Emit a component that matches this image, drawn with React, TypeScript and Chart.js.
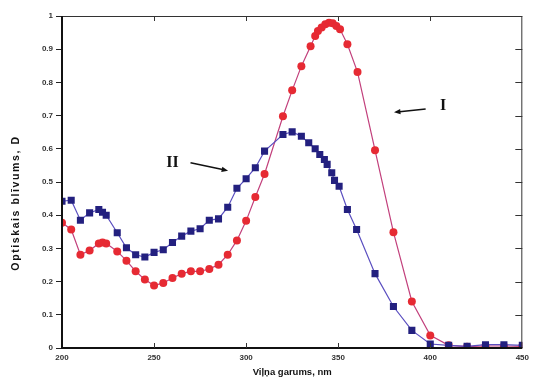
import React, { useEffect, useRef } from 'react';
import { Chart, registerables } from 'chart.js';

Chart.register(...registerables);

// Series I (red circles)
const redNm = [200, 205, 210, 215, 220, 222, 224, 230, 235, 240, 245, 250, 255, 260, 265, 270, 275, 280, 285, 290, 295, 300, 305, 310, 320, 325, 330, 335, 337.5, 339, 341, 343, 345, 347, 349, 351, 355, 360.5, 370, 380, 390, 400, 410, 420, 430, 440, 450];
const redD = [0.377, 0.357, 0.281, 0.294, 0.315, 0.318, 0.315, 0.291, 0.263, 0.231, 0.206, 0.188, 0.196, 0.211, 0.224, 0.231, 0.231, 0.238, 0.251, 0.281, 0.324, 0.383, 0.455, 0.524, 0.698, 0.776, 0.849, 0.909, 0.94, 0.955, 0.965, 0.975, 0.98, 0.978, 0.97, 0.96, 0.915, 0.831, 0.596, 0.349, 0.14, 0.038, 0.008, 0.004, 0.006, 0.006, 0.005];

// Series II (blue squares)
const blueNm = [200, 205, 210, 215, 220, 222, 224, 230, 235, 240, 245, 250, 255, 260, 265, 270, 275, 280, 285, 290, 295, 300, 305, 310, 320, 325, 330, 334, 337.5, 340, 342.5, 344, 346.5, 348, 350.5, 355, 360, 370, 380, 390, 400, 410, 420, 430, 440, 450];
const blueD = [0.442, 0.445, 0.385, 0.407, 0.417, 0.409, 0.4, 0.347, 0.302, 0.281, 0.274, 0.288, 0.296, 0.318, 0.337, 0.352, 0.359, 0.385, 0.389, 0.424, 0.481, 0.51, 0.543, 0.593, 0.643, 0.651, 0.638, 0.618, 0.6, 0.583, 0.568, 0.553, 0.528, 0.505, 0.487, 0.417, 0.357, 0.224, 0.125, 0.053, 0.012, 0.008, 0.005, 0.01, 0.01, 0.008];

const xTicks = [200, 250, 300, 350, 400, 450];
const yTicks = [0, 0.1, 0.2, 0.3, 0.4, 0.5, 0.6, 0.7, 0.8, 0.9, 1];
const xTitle = 'Viļņa garums, nm';
const yTitle = 'Optiskais blīvums, D';
const labelI = 'I';
const labelII = 'II';

const frameAndNotes = {
  id: 'frameAndNotes',
  afterDraw(chart: any) {
    const { ctx, chartArea, scales } = chart;
    const { left, right, top, bottom } = chartArea;
    const x = scales.x;
    const y = scales.y;
    ctx.save();
    // frame
    ctx.strokeStyle = '#333';
    ctx.lineWidth = 1;
    ctx.beginPath();
    ctx.moveTo(left, top + 0.5);
    ctx.lineTo(right, top + 0.5);
    ctx.moveTo(right - 0.5, top);
    ctx.lineTo(right - 0.5, bottom);
    ctx.stroke();
    ctx.strokeStyle = '#111';
    ctx.lineWidth = 2;
    ctx.beginPath();
    ctx.moveTo(left, top);
    ctx.lineTo(left, bottom);
    ctx.lineTo(right, bottom);
    ctx.stroke();
    // inward ticks
    ctx.lineWidth = 1;
    ctx.strokeStyle = '#333';
    ctx.beginPath();
    xTicks.slice(1, -1).forEach((v) => {
      const px = Math.round(x.getPixelForValue(v)) + 0.5;
      ctx.moveTo(px, bottom);
      ctx.lineTo(px, bottom - 5);
      ctx.moveTo(px, top);
      ctx.lineTo(px, top + 5);
    });
    yTicks.slice(1, -1).forEach((v) => {
      const py = Math.round(y.getPixelForValue(v)) + 0.5;
      ctx.moveTo(right, py);
      ctx.lineTo(right - 7, py);
    });
    ctx.stroke();
    // y-axis title
    ctx.save();
    ctx.translate(16, (top + bottom) / 2 + 21);
    ctx.rotate(-Math.PI / 2);
    ctx.fillStyle = '#111';
    ctx.font = 'bold 10.5px "Liberation Sans", Arial, sans-serif';
    (ctx as any).letterSpacing = '1.6px';
    ctx.textAlign = 'center';
    ctx.textBaseline = 'middle';
    ctx.fillText(yTitle, 0, 0);
    ctx.restore();
    // annotations
    ctx.fillStyle = '#111';
    ctx.strokeStyle = '#111';
    ctx.font = 'bold 16px "Liberation Serif", serif';
    ctx.textAlign = 'center';
    ctx.textBaseline = 'middle';
    ctx.fillText(labelI, x.getPixelForValue(407), y.getPixelForValue(0.73));
    ctx.fillText(labelII, x.getPixelForValue(260), y.getPixelForValue(0.557));
    const arrow = (x1: number, y1: number, x2: number, y2: number) => {
      const ax = x.getPixelForValue(x1), ay = y.getPixelForValue(y1);
      const bx = x.getPixelForValue(x2), by = y.getPixelForValue(y2);
      const ang = Math.atan2(by - ay, bx - ax);
      const hl = 7;
      ctx.lineWidth = 1.6;
      ctx.beginPath();
      ctx.moveTo(ax, ay);
      ctx.lineTo(bx - Math.cos(ang) * hl * 0.8, by - Math.sin(ang) * hl * 0.8);
      ctx.stroke();
      ctx.beginPath();
      ctx.moveTo(bx, by);
      ctx.lineTo(bx - hl * Math.cos(ang - 0.4), by - hl * Math.sin(ang - 0.4));
      ctx.lineTo(bx - hl * Math.cos(ang + 0.4), by - hl * Math.sin(ang + 0.4));
      ctx.closePath();
      ctx.fill();
    };
    arrow(397.5, 0.72, 380.3, 0.71);
    arrow(269.8, 0.558, 290.2, 0.534);
    ctx.restore();
  },
};

export default function App() {
  const ref = useRef<HTMLCanvasElement>(null);
  useEffect(() => {
    if (!ref.current) return;
    const tickFont = { family: '"Liberation Sans", Arial, sans-serif', size: 8, weight: 'bold' as const };
    const chart = new Chart(ref.current, {
      type: 'line',
      data: {
        datasets: [
          {
            label: 'II',
            data: blueNm.map((v, i) => ({ x: v, y: blueD[i] })),
            borderColor: '#5b4fc0',
            borderWidth: 1.2,
            backgroundColor: '#23207f',
            pointBackgroundColor: '#23207f',
            pointBorderColor: '#23207f',
            pointStyle: 'rect',
            pointRadius: 5,
            pointBorderWidth: 0,
            tension: 0,
          },
          {
            label: 'I',
            data: redNm.map((v, i) => ({ x: v, y: redD[i] })),
            borderColor: '#c2407c',
            borderWidth: 1.2,
            backgroundColor: '#e62a33',
            pointBackgroundColor: '#e62a33',
            pointBorderColor: '#e62a33',
            pointStyle: 'circle',
            pointRadius: 4,
            pointBorderWidth: 0,
            tension: 0,
          },
        ],
      },
      options: {
        animation: false,
        responsive: false,
        layout: { padding: { top: 16, right: 7, left: 0, bottom: 0 } },
        plugins: { legend: { display: false }, tooltip: { enabled: false } },
        scales: {
          x: {
            type: 'linear',
            min: 200,
            max: 450,
            afterFit: (s: any) => { s.height = 32; },
            afterBuildTicks: (s: any) => { s.ticks = xTicks.map((v) => ({ value: v })); },
            grid: { display: false, drawTicks: false },
            border: { display: false },
            ticks: { font: tickFont, color: '#333', padding: 5, maxRotation: 0, autoSkip: false },
            title: {
              display: true,
              text: xTitle,
              font: { family: '"Liberation Sans", Arial, sans-serif', size: 9.5, weight: 'bold' },
              color: '#111',
              padding: { top: 0, bottom: 2 },
            },
          },
          y: {
            type: 'linear',
            min: 0,
            max: 1,
            afterFit: (s: any) => { s.width = 62; },
            afterBuildTicks: (s: any) => { s.ticks = yTicks.map((v) => ({ value: v })); },
            grid: { display: true, drawOnChartArea: false, drawTicks: true, tickLength: 6, color: '#222' },
            border: { display: false },
            ticks: {
              font: tickFont,
              color: '#333',
              padding: 3,
              autoSkip: false,
              callback: (v: any) => String(Number(Number(v).toFixed(1))),
            },
            title: { display: false, text: yTitle },
          },
        },
      },
      plugins: [frameAndNotes],
    });
    return () => chart.destroy();
  }, []);
  return (
    <div style={{ position: 'absolute', left: 0, top: 0, width: 534, height: 380, background: '#fff' }}>
      <canvas ref={ref} width={534} height={380} />
    </div>
  );
}
